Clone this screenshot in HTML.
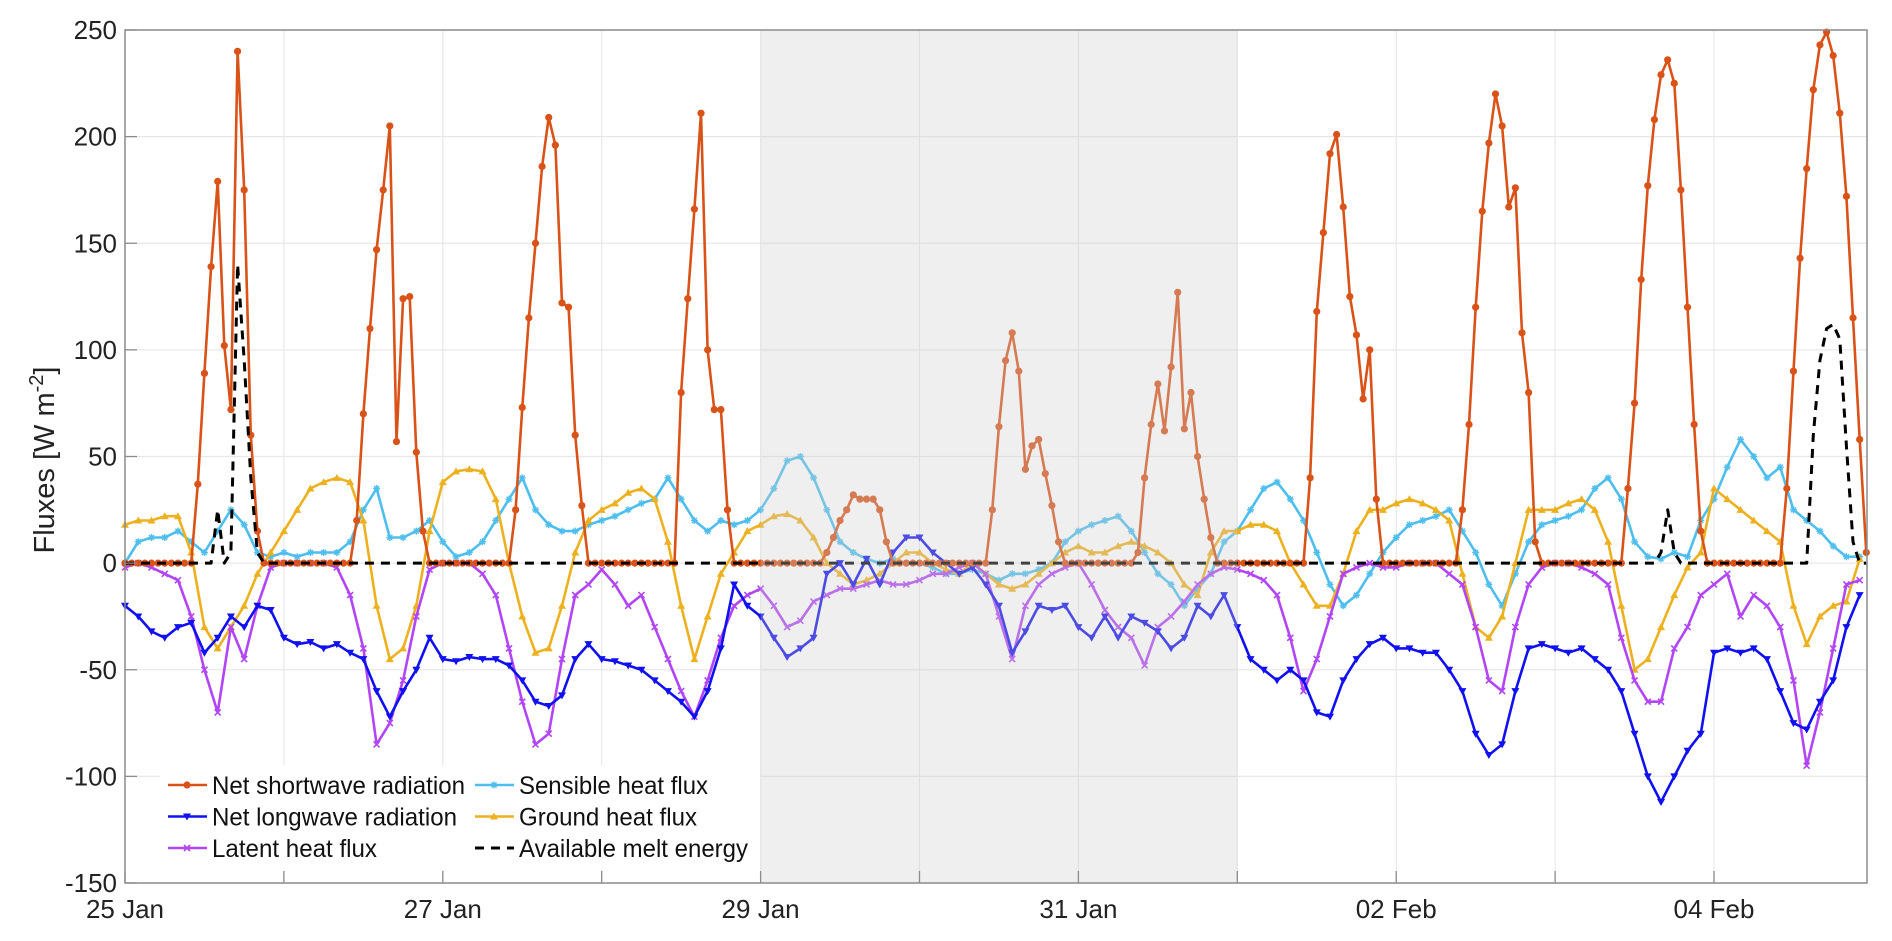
<!DOCTYPE html>
<html><head><meta charset="utf-8">
<style>
html,body{margin:0;padding:0;background:#fff;}
svg{display:block;font-family:"Liberation Sans",Arial,sans-serif;}
</style></head>
<body>
<svg id="chart" width="1892" height="941" viewBox="0 0 1892 941" xmlns="http://www.w3.org/2000/svg"></svg>
<script>
// ---- data ----
const dayLabels = ["25 Jan","","27 Jan","","29 Jan","","31 Jan","","02 Feb","","04 Feb"];
const yTicks = [250,200,150,100,50,0,-50,-100,-150];
// hourly net shortwave (per day, 24 h)
const swD0=[0,0,0,0,0,0,0,0,0,0,0,37,89,139,179,102,72,240,175,60,15,0,0,0];
const swD1=[0,0,0,0,0,0,0,0,0,0,0,20,70,110,147,175,205,57,124,125,52,15,0,0];
const swD2=[0,0,0,0,0,0,0,0,0,0,0,25,73,115,150,186,209,196,122,120,60,27,0,0];
const swD3=[0,0,0,0,0,0,0,0,0,0,0,0,80,124,166,211,100,72,72,25,0,0,0,0];
const swD4=[0,0,0,0,0,0,0,0,0,0,5,12,20,25,32,30,30,30,25,10,0,0,0,0];
const swD5=[0,0,0,0,0,0,0,0,0,0,0,25,64,95,108,90,44,55,58,42,27,10,0,0];
const swD6=[0,0,0,0,0,0,0,0,0,5,40,65,84,62,92,127,63,80,50,30,12,0,0,0];
const swD7=[0,0,0,0,0,0,0,0,0,0,0,40,118,155,192,201,167,125,107,77,100,30,0,0];
const swD8=[0,0,0,0,0,0,0,0,0,0,25,65,120,165,197,220,205,167,176,108,80,10,0,0];
const swD9=[0,0,0,0,0,0,0,0,0,0,0,35,75,133,177,208,229,236,225,175,120,65,15,0];
const swD10=[0,0,0,0,0,0,0,0,0,0,0,35,90,143,185,222,243,249,238,211,172,115,58,5];
const shortwave=[].concat(swD0,swD1,swD2,swD3,swD4,swD5,swD6,swD7,swD8,swD9,swD10);
// hourly available melt energy
const mD0=[0,0,0,0,0,0,0,0,0,0,0,0,0,0,25,0,5,140,95,40,5,0,0,0];
const mZ=[0,0,0,0,0,0,0,0,0,0,0,0,0,0,0,0,0,0,0,0,0,0,0,0];
const mD9=[0,0,0,0,0,0,0,0,0,0,0,0,0,0,0,0,5,25,5,0,0,0,0,0];
const mD10=[0,0,0,0,0,0,0,0,0,0,0,0,0,0,0,60,95,110,112,105,55,10,0,0];
const melt=[].concat(mD0,mZ,mZ,mZ,mZ,mZ,mZ,mZ,mZ,mD9,mD10);
// 2-hourly series
const longwave=[-20,-25,-32,-35,-30,-28,-42,-35,-25,-30,
-20,-22,-35,-38,-37,-40,-38,-42,-45,-60,
-72,-60,-50,-35,-45,-46,-44,-45,-45,-48,
-55,-65,-67,-62,-45,-38,-45,-46,-48,-50,
-55,-60,-65,-72,-60,-40,-10,-20,-25,-35,
-44,-40,-35,-5,0,-10,2,-10,5,12,
12,5,0,-5,-2,-10,-20,-42,-32,-20,
-22,-20,-30,-35,-25,-35,-25,-28,-32,-40,
-35,-20,-25,-15,-30,-45,-50,-55,-50,-55,
-70,-72,-55,-45,-38,-35,-40,-40,-42,-42,
-50,-60,-80,-90,-85,-60,-40,-38,-40,-42,
-40,-45,-50,-60,-80,-100,-112,-100,-88,-80,
-42,-40,-42,-40,-45,-60,-75,-78,-65,-55,
-30,-15];
const latent=[-2,0,-2,-5,-8,-25,-50,-70,-30,-45,
-20,-2,0,0,0,0,-2,-15,-40,-85,
-75,-55,-25,-3,0,0,0,-5,-15,-40,
-65,-85,-80,-45,-15,-10,-3,-10,-20,-15,
-30,-45,-60,-72,-55,-35,-20,-15,-12,-20,
-30,-27,-18,-15,-12,-12,-10,-8,-10,-10,
-8,-5,-5,-2,0,-5,-25,-45,-20,-10,
-5,-2,0,-10,-22,-30,-35,-48,-30,-25,
-18,-10,-5,-2,-3,-5,-8,-15,-35,-60,
-45,-25,-5,-2,0,-2,-2,0,0,0,
-5,-10,-30,-55,-60,-30,-10,-2,0,0,
-2,-5,-10,-35,-55,-65,-65,-40,-30,-15,
-10,-5,-25,-15,-20,-30,-55,-95,-70,-40,
-10,-8];
const sensible=[0,10,12,12,15,10,5,15,25,18,
5,3,5,3,5,5,5,10,25,35,
12,12,15,20,10,3,5,10,20,30,
40,25,18,15,15,18,20,22,25,28,
30,40,30,20,15,20,18,20,25,35,
48,50,40,25,10,5,2,0,2,0,
0,-2,-5,-5,-3,-5,-8,-5,-5,-3,
0,10,15,18,20,22,15,5,-5,-10,
-20,-12,-5,10,15,25,35,38,30,20,
5,-10,-20,-15,-5,5,12,18,20,22,
25,15,5,-10,-20,-5,10,18,20,22,
25,35,40,30,10,3,2,5,3,20,
30,45,58,50,40,45,25,20,15,8,
3,3];
const ground=[18,20,20,22,22,5,-30,-40,-30,-20,
-5,5,15,25,35,38,40,38,20,-20,
-45,-40,-20,15,38,43,44,43,30,0,
-25,-42,-40,-20,5,20,25,28,33,35,
30,10,-20,-45,-25,-5,5,15,18,22,
23,20,12,0,-5,-10,-8,-5,0,5,
5,0,-3,-5,0,-5,-10,-12,-10,-5,
0,5,8,5,5,8,10,8,5,0,
-10,-15,5,15,15,18,18,15,0,-10,
-20,-20,-5,15,25,25,28,30,28,25,
20,-5,-30,-35,-25,0,25,25,25,28,
30,25,10,-20,-50,-45,-30,-15,-2,5,
35,30,25,20,15,10,-20,-38,-25,-20,
-18,2];
const shadeStartDay=4, shadeEndDay=7;

// ---- scales ----
const L=125,R=1867,T=30,B=883,DAYPX=158.9;
const xH=h=>L+h*DAYPX/24;
const yV=v=>T+(250-v)*(B-T)/400;
const NS="http://www.w3.org/2000/svg";
const svg=document.getElementById('chart');
function mk(tag,attrs,parent){const e=document.createElementNS(NS,tag);for(const k in attrs)e.setAttribute(k,attrs[k]);(parent||svg).appendChild(e);return e;}

// grid
const grid=mk('g',{});


yTicks.forEach(v=>{mk('line',{x1:L,x2:R,y1:yV(v),y2:yV(v),stroke:'#e8e8e8','stroke-width':1.2},grid);});
dayLabels.forEach((d,i)=>{mk('line',{x1:xH(i*24),x2:xH(i*24),y1:T,y2:B,stroke:'#e8e8e8','stroke-width':1.2},grid);});

function marker(g,type,x,y,c){
  if(type==='dot'){mk('circle',{cx:x,cy:y,r:3.6,fill:c},g);}
  else if(type==='tdown'){mk('path',{d:`M${x-4},${y-3}L${x+4},${y-3}L${x},${y+4}Z`,fill:c},g);}
  else if(type==='tup'){mk('path',{d:`M${x-4},${y+3}L${x+4},${y+3}L${x},${y-4}Z`,fill:c},g);}
  else if(type==='x'){mk('path',{d:`M${x-3},${y-3}L${x+3},${y+3}M${x-3},${y+3}L${x+3},${y-3}`,stroke:c,'stroke-width':1.6},g);}
  else if(type==='star'){mk('path',{d:`M${x-3.5},${y}L${x+3.5},${y}M${x},${y-3.5}L${x},${y+3.5}M${x-2.5},${y-2.5}L${x+2.5},${y+2.5}M${x-2.5},${y+2.5}L${x+2.5},${y-2.5}`,stroke:c,'stroke-width':1.4},g);}
}
function series(name,data,step,color,mtype,dash){
  const g=mk('g',{});
  
  
  const pts=data.map((v,i)=>xH(i*step).toFixed(1)+','+yV(v).toFixed(1)).join(' ');
  const a={points:pts,fill:'none',stroke:color,'stroke-width':dash?3:2.6,'stroke-linejoin':'round'};
  if(dash)a['stroke-dasharray']='9,7';
  mk('polyline',a,g);
  if(mtype)data.forEach((v,i)=>marker(g,mtype,xH(i*step),yV(v),color));
}
series('sensible-heat-flux-line',sensible,2,'#4dbeee','star');
series('ground-heat-flux-line',ground,2,'#edb120','tup');
series('latent-heat-flux-line',latent,2,'#b245f5','x');
series('net-longwave-line',longwave,2,'#1010f0','tdown');
series('net-shortwave-line',shortwave,1,'#d95319','dot');
series('melt-energy-line',melt,1,'#000','',true);

// shaded period
const sh=mk('rect',{x:xH(shadeStartDay*24),y:T,width:xH(shadeEndDay*24)-xH(shadeStartDay*24),height:B-T,fill:'rgb(205,205,205)','fill-opacity':0.32});



// axes box
const ax=mk('rect',{x:L,y:T,width:R-L,height:B-T,fill:'none',stroke:'#8c8c8c','stroke-width':1.5});



// ticks & labels
const yt=mk('g',{'font-size':26,fill:'#222','text-anchor':'end'});


yTicks.forEach(v=>{
  mk('line',{x1:L,x2:L+12,y1:yV(v),y2:yV(v),stroke:'#8c8c8c','stroke-width':1.3},yt);
  const t=mk('text',{x:L-8,y:yV(v)+9},yt);t.textContent=v;
});
const xt=mk('g',{'font-size':26,fill:'#222','text-anchor':'middle'});


dayLabels.forEach((d,i)=>{
  mk('line',{x1:xH(i*24),x2:xH(i*24),y1:B,y2:B-12,stroke:'#8c8c8c','stroke-width':1.3},xt);
  if(d){const t=mk('text',{x:xH(i*24),y:918},xt);t.textContent=d;}
});
const yl=mk('text',{x:0,y:0,'font-size':29,fill:'#222','text-anchor':'middle',transform:'translate(54,460) rotate(-90)'});


yl.innerHTML='Fluxes [W m<tspan dy="-11" font-size="20">-2</tspan><tspan dy="11">]</tspan>';

// legend
const lg=mk('g',{});


mk('rect',{x:160,y:765,width:600,height:105,fill:'#fff'},lg);
const legendItems=[
 ['Net shortwave radiation','#d95319','dot',0,0,253],
 ['Net longwave radiation','#1010f0','tdown',0,1,245],
 ['Latent heat flux','#b245f5','x',0,2,165],
 ['Sensible heat flux','#4dbeee','star',1,0,189],
 ['Ground heat flux','#edb120','tup',1,1,178],
 ['Available melt energy','#000','',1,2,229]];
legendItems.forEach(it=>{
  const e=mk('g',{},lg);
  
  
  const x0=it[3]?475:168, y=785+it[4]*31.5;
  const la={x1:x0,x2:x0+39,y1:y,y2:y,stroke:it[1],'stroke-width':it[2]?2.6:3};
  if(!it[2])la['stroke-dasharray']='9,7';
  mk('line',la,e);
  if(it[2])marker(e,it[2],x0+19,y,it[1]);
  const t=mk('text',{x:x0+44,y:y+9,'font-size':25,fill:'#111',textLength:it[5],lengthAdjust:'spacingAndGlyphs'},e);
  t.textContent=it[0];
});
</script>
</body></html>
